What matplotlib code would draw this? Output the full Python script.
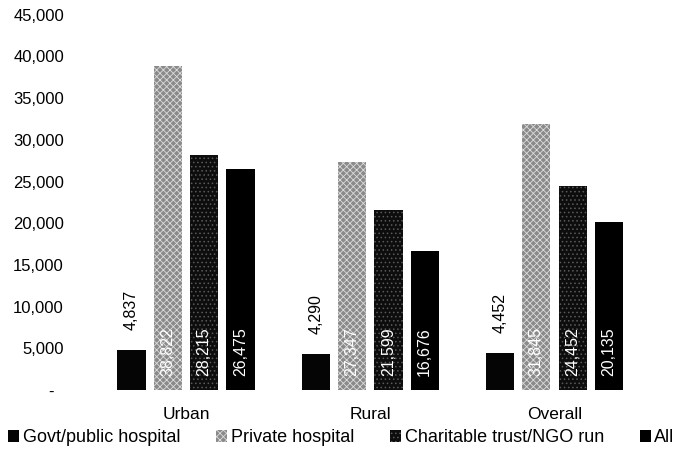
import matplotlib
matplotlib.use("Agg")
import matplotlib.pyplot as plt
import numpy as np
from matplotlib.ticker import FuncFormatter
from matplotlib.patches import Patch

plt.rcParams['font.family'] = ['Liberation Sans', 'DejaVu Sans']
plt.rcParams['hatch.linewidth'] = 0.6

categories = ["Urban", "Rural", "Overall"]
series_names = ["Govt/public hospital", "Private hospital", "Charitable trust/NGO run", "All"]
govt = [4837, 4290, 4452]
private = [38822, 27347, 31845]
charitable = [28215, 21599, 24452]
all_types = [26475, 16676, 20135]
y_ticks = [0, 5000, 10000, 15000, 20000, 25000, 30000, 35000, 40000, 45000]

series = [govt, private, charitable, all_types]
styles = [
    dict(facecolor="#050505", edgecolor="#050505", hatch=None),
    dict(facecolor="#8a8a8a", edgecolor="#dcdcdc", hatch="xxxxx"),
    dict(facecolor="#0d0d0d", edgecolor="#5a5a5a", hatch="...."),
    dict(facecolor="#000000", edgecolor="#000000", hatch=None),
]

fig = plt.figure(figsize=(6.8, 4.62), dpi=100)
ax = fig.add_axes([0.138, 0.156, 0.813, 0.812])

x = np.arange(len(categories))
width = 0.153
pitch = 0.197
offsets = (np.arange(4) - 1.5) * pitch

for i, (vals, st) in enumerate(zip(series, styles)):
    bars = ax.bar(x + offsets[i], vals, width, facecolor=st["facecolor"],
                  edgecolor=st["edgecolor"], hatch=st["hatch"], linewidth=0)
    for b, v in zip(bars, vals):
        cx = b.get_x() + b.get_width() / 2
        txt = f"{v:,}"
        if i == 0:
            ax.text(cx, v + 2400, txt, rotation=90, ha="center", va="bottom",
                    fontsize=11.5, color="black")
        else:
            ax.text(cx, 1700, txt, rotation=90, ha="center", va="bottom",
                    fontsize=11.5, color="white")

ax.set_xlim(-0.5, len(categories) - 0.5)
ax.set_ylim(0, 45000)
ax.set_yticks(y_ticks)
ax.yaxis.set_major_formatter(FuncFormatter(lambda v, p: "-  " if v == 0 else f"{int(v):,}"))
ax.set_xticks(x)
ax.set_xticklabels(categories, fontsize=12.5)
ax.tick_params(axis="y", length=0, labelsize=12, pad=21.5)
ax.tick_params(axis="x", length=0, pad=12)
for s in ax.spines.values():
    s.set_visible(False)

handles = [Patch(facecolor=st["facecolor"], edgecolor=st["edgecolor"], hatch=st["hatch"], linewidth=0)
           for st in styles]
fig.legend(handles, series_names, loc="center", bbox_to_anchor=(0.502, 0.052), ncol=4,
           frameon=False, fontsize=13, handlelength=0.6, handleheight=0.6,
           handletextpad=0.2, columnspacing=2.0, borderpad=0, borderaxespad=0)

fig.savefig("out.png", dpi=100)
